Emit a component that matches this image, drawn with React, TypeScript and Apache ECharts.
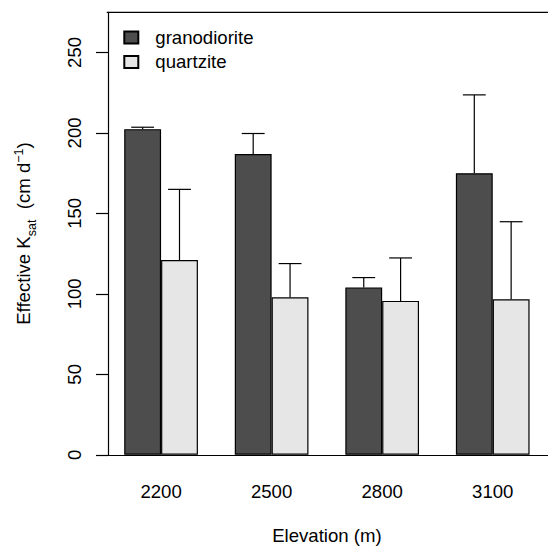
import React, { useEffect, useRef } from "react";
import * as echarts from "echarts";

const categories = ["2200", "2500", "2800", "3100"];
const granodiorite = [202.3, 186.9, 104.0, 174.9];
const quartzite = [121.0, 97.8, 95.6, 96.6];
const granodioriteSE = [1.2, 12.7, 6.1, 48.7];
const quartziteSE = [43.9, 21.0, 26.7, 48.2];
const yTicks = [0, 50, 100, 150, 200, 250];

const FONT = "Liberation Sans, Arial, Helvetica, sans-serif";
const FS = 18.6;

export default function App() {
  const ref = useRef<HTMLDivElement>(null);
  useEffect(() => {
    if (!ref.current) return;
    const chart = echarts.init(ref.current, undefined, { renderer: "svg" });
    const errData: number[][] = [];
    categories.forEach((_, i) => {
      errData.push([i, granodiorite[i], granodioriteSE[i], 0]);
      errData.push([i, quartzite[i], quartziteSE[i], 1]);
    });
    chart.setOption({
      animation: false,
      backgroundColor: "#ffffff",
      textStyle: { fontFamily: FONT, color: "#000" },
      grid: { left: 104.5, top: 12.3, width: 451.6, height: 446.7, containLabel: false },
      legend: {
        data: ["granodiorite", "quartzite"],
        orient: "vertical",
        left: 123.3,
        top: 28,
        padding: 0,
        itemWidth: 14,
        itemHeight: 12,
        itemGap: 5.4,
        icon: "rect",
        textStyle: { fontFamily: FONT, fontSize: FS, color: "#000", padding: [0, 0, 0, 12] },
      },
      xAxis: {
        type: "category",
        data: categories,
        axisTick: { show: false },
        axisLine: { show: true, lineStyle: { color: "#000", width: 1.2 } },
        axisLabel: { fontFamily: FONT, fontSize: FS, color: "#000", margin: 26.7 },
        name: "Elevation (m)",
        nameLocation: "middle",
        nameGap: 71.2,
        nameTextStyle: { fontFamily: FONT, fontSize: FS, color: "#000" },
      },
      yAxis: {
        type: "value",
        min: 0,
        max: 274.9,
        interval: 50,
        offset: -2.2,
        splitLine: { show: false },
        axisLine: { show: true, lineStyle: { color: "#000", width: 1.2 } },
        axisTick: { show: true, length: 12, customValues: yTicks, lineStyle: { color: "#000", width: 1.2 } },
        axisLabel: {
          customValues: yTicks,
          rotate: 90,
          margin: 24,
          fontFamily: FONT,
          fontSize: FS,
          color: "#000",
        },
        name: "Effective K{sub|sat}  (cm d{sup|−1})",
        nameLocation: "middle",
        nameRotate: 90,
        nameGap: 70,
        nameTextStyle: {
          fontFamily: FONT,
          fontSize: FS,
          color: "#000",
          lineHeight: 30,
          rich: {
            sub: { fontFamily: FONT, fontSize: 12.5, lineHeight: 12, verticalAlign: "bottom", color: "#000" },
            sup: { fontFamily: FONT, fontSize: 12.5, lineHeight: 12, verticalAlign: "top", color: "#000", padding: [4, 0, 0, 0] },
          },
        },
      },
      graphic: [
        {
          type: "line",
          shape: { x1: 106.7, y1: 12.3, x2: 600, y2: 12.3 },
          style: { stroke: "#000", lineWidth: 1.2 },
          z: 10,
        },
      ],
      series: [
        {
          name: "granodiorite",
          type: "bar",
          data: granodiorite,
          barWidth: "33.333%",
          barGap: "0%",
          itemStyle: { color: "#4d4d4d", borderColor: "#000", borderWidth: 1.2 },
        },
        {
          name: "quartzite",
          type: "bar",
          data: quartzite,
          barWidth: "33.333%",
          barGap: "0%",
          itemStyle: { color: "#e6e6e6", borderColor: "#000", borderWidth: 1.2 },
        },
        {
          name: "errors",
          type: "custom",
          data: errData,
          z: 5,
          clip: false,
          renderItem: (params: any, api: any) => {
            const idx = api.value(0);
            const mean = api.value(1);
            const se = api.value(2);
            const which = api.value(3);
            const base = api.coord([idx, mean]);
            const top = api.coord([idx, mean + se]);
            const band = api.size([1, 0])[0];
            const bw = band / 3;
            const x = base[0] + (which - 0.5) * bw;
            const h = bw * 0.31;
            const st = { stroke: "#000", lineWidth: 1.2 };
            return {
              type: "group",
              children: [
                { type: "line", shape: { x1: x, y1: base[1], x2: x, y2: top[1] }, style: st },
                { type: "line", shape: { x1: x - h, y1: top[1], x2: x + h, y2: top[1] }, style: st },
              ],
            };
          },
        },
      ],
    });
    return () => chart.dispose();
  }, []);
  return (
    <div
      ref={ref}
      style={{ position: "fixed", left: 0, top: 0, width: 548, height: 550, background: "#fff" }}
    />
  );
}
